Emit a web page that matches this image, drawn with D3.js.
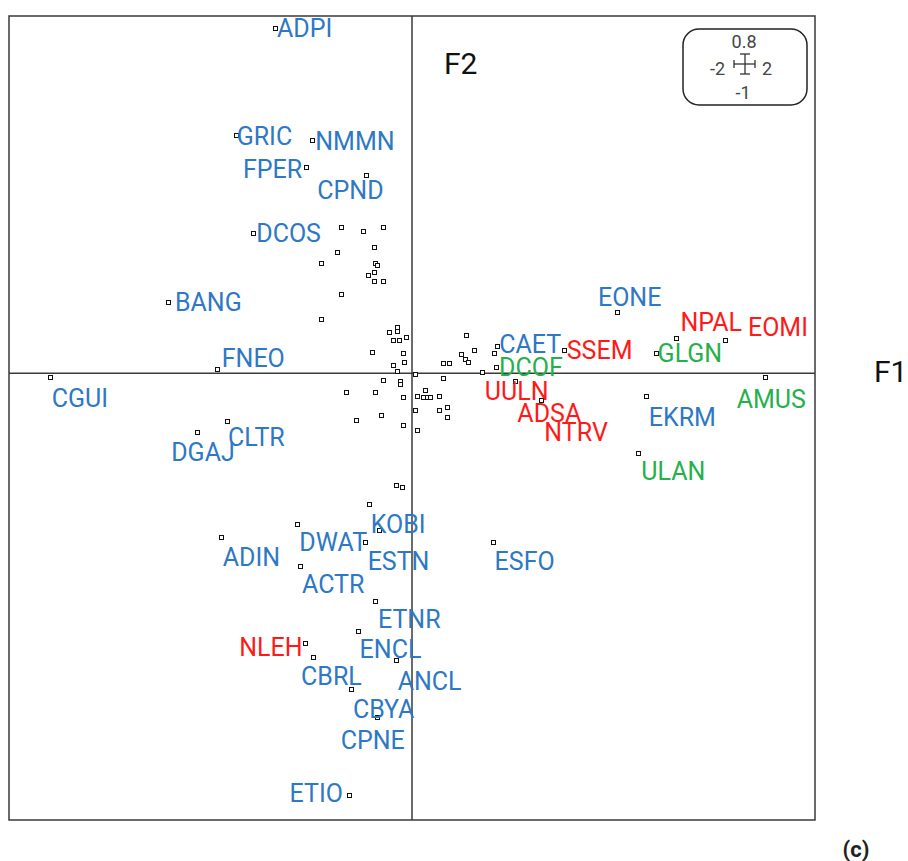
<!DOCTYPE html>
<html>
<head>
<meta charset="utf-8">
<script src="https://cdn.jsdelivr.net/npm/d3@7"></script>
<style>
  html, body { margin: 0; padding: 0; background: #fff; }
  svg { display: block; }
</style>
</head>
<body>
<div id="chart"></div>
<script>
// labelled species / sites (F1, F2 scores)
var names = ["ADPI", "GRIC", "NMMN", "FPER", "CPND", "DCOS", "BANG", "FNEO", "CGUI", "CLTR",
             "DGAJ", "KOBI", "DWAT", "ADIN", "ESTN", "ESFO", "ACTR", "ETNR", "NLEH", "ENCL",
             "CBRL", "ANCL", "CBYA", "CPNE", "ETIO", "EONE", "CAET", "SSEM", "DCOF", "UULN",
             "ADSA", "NTRV", "NPAL", "EOMI", "GLGN", "AMUS", "EKRM", "ULAN"];
var f1 = [-0.675, -0.870, -0.490, -0.520, -0.222, -0.783, -1.206, -0.964, -1.793, -0.913,
          -1.061, -0.210, -0.564, -0.944, -0.230, 0.405, -0.551, -0.179, -0.528, -0.265,
          -0.486, -0.076, -0.298, -0.170, -0.308, 1.022, 0.428, 0.758, 0.422, 0.515,
          0.647, 0.647, 1.317, 1.558, 1.214, 1.755, 1.165, 1.128];
var f2 = [0.770, 0.532, 0.521, 0.459, 0.441, 0.313, 0.158, 0.007, -0.010, -0.108,
          -0.134, -0.294, -0.339, -0.368, -0.380, -0.380, -0.433, -0.512, -0.605, -0.579,
          -0.637, -0.644, -0.709, -0.771, -0.946, 0.136, 0.058, 0.050, 0.012, -0.020,
          -0.063, -0.063, 0.076, 0.073, 0.044, -0.010, -0.052, -0.181];
var groups = ["b", "b", "b", "b", "b", "b", "b", "b", "b", "b",
              "b", "b", "b", "b", "b", "b", "b", "b", "r", "b",
              "b", "b", "b", "b", "b", "b", "b", "r", "g", "r",
              "r", "r", "r", "r", "g", "g", "b", "g"];

// unlabelled points
var otherF1 = [-0.346, -0.237, -0.140, -0.367, -0.184, -0.448, -0.179, -0.170, -0.212, -0.184,
               -0.184, -0.140, -0.346, -0.448, -0.109, -0.068, -0.068, -0.089, -0.061, -0.025,
               -0.192, -0.041, -0.033, -0.089, -0.068, 0.020, 0.159, 0.189, 0.159, 0.274,
               0.314, 0.247, 0.268, 0.283, 0.413, 0.354, -0.140, -0.055, -0.055, -0.324,
               -0.177, -0.041, 0.030, 0.069, 0.061, 0.078, 0.093, 0.140, 0.020, 0.140,
               0.180, 0.180, -0.149, -0.271, -0.041, 0.030, -0.076, -0.043, -0.157];
var otherF2 = [0.326, 0.316, 0.326, 0.270, 0.280, 0.245, 0.244, 0.241, 0.219, 0.224,
               0.204, 0.204, 0.176, 0.119, 0.091, 0.101, 0.092, 0.073, 0.073, 0.080,
               0.046, 0.043, 0.024, 0.016, 0.004, -0.003, 0.020, 0.020, -0.013, 0.083,
               0.050, 0.040, 0.030, 0.024, 0.043, 0.001, -0.018, -0.019, -0.025, -0.045,
               -0.043, -0.055, -0.052, -0.040, -0.055, -0.055, -0.055, -0.052, -0.085, -0.085,
               -0.078, -0.099, -0.095, -0.107, -0.118, -0.128, -0.252, -0.256, -0.354];

var xDomain = [-2, 2];
var yDomain = [-1, 0.8];

// label placement (pixels from the point: dx to text start, or text end if "end"; dy to baseline)
var labelPos = {
  ADPI: [1, 8], GRIC: [0, 9], NMMN: [2, 9], FPER: [-5, 10, "end"], CPND: [-50, 23],
  DCOS: [2, 8], BANG: [6, 8], FNEO: [4, -3], CGUI: [1, 29], CLTR: [0, 24],
  DGAJ: [-27, 28], KOBI: [1, 28], DWAT: [1, 26], ADIN: [1, 28], ESTN: [2, 27],
  ESFO: [1, 27], ACTR: [1, 26], ETNR: [2, 26], NLEH: [-3, 12, "end"], ENCL: [1, 26],
  CBRL: [-13, 27], ANCL: [1, 29], CBYA: [1, 28], CPNE: [-37, 31], ETIO: [-7, 6, "end"],
  EONE: [-20, -7], CAET: [1, 6], SSEM: [2, 8], DCOF: [2, 8], UULN: [-31, 18],
  ADSA: [-25, 21], NTRV: [2, 40], NPAL: [3, -8], EOMI: [22, -5], GLGN: [1, 8],
  AMUS: [-29, 30], EKRM: [2, 29], ULAN: [2, 26]
};
var colors = { b: "#2E78C4", r: "#FF1A1A", g: "#25B04C" };

var width = 908, height = 861;
var frame = { left: 9, top: 16, right: 815, bottom: 820 };

var svg = d3.select("#chart").append("svg")
    .attr("width", width)
    .attr("height", height);

var x = d3.scaleLinear().domain(xDomain).range([frame.left, frame.right]);
var y = d3.scaleLinear().domain(yDomain).range([frame.bottom, frame.top]);

// frame
svg.append("rect")
    .attr("x", frame.left)
    .attr("y", frame.top)
    .attr("width", frame.right - frame.left)
    .attr("height", frame.bottom - frame.top)
    .attr("fill", "none")
    .attr("stroke", "#3a3a3a")
    .attr("stroke-width", 1.5);

// axes through origin
svg.append("line")
    .attr("x1", x(xDomain[0])).attr("x2", x(xDomain[1]))
    .attr("y1", y(0)).attr("y2", y(0))
    .attr("stroke", "#3a3a3a").attr("stroke-width", 1.5);
svg.append("line")
    .attr("x1", x(0)).attr("x2", x(0))
    .attr("y1", y(yDomain[0])).attr("y2", y(yDomain[1]))
    .attr("stroke", "#3a3a3a").attr("stroke-width", 1.5);

svg.append("text")
    .attr("x", x(0) + 32).attr("y", 74)
    .attr("font-family", "Roboto, sans-serif")
    .attr("font-size", 30)
    .attr("fill", "#111")
    .text("F2");
svg.append("text")
    .attr("x", 874).attr("y", 382)
    .attr("font-family", "Roboto, sans-serif")
    .attr("font-size", 30)
    .attr("fill", "#111")
    .text("F1");

var labelled = names.map(function (n, i) {
  return { name: n, x: f1[i], y: f2[i], group: groups[i] };
});
var others = otherF1.map(function (v, i) { return { x: v, y: otherF2[i] }; });

// markers
svg.append("g").selectAll("rect")
    .data(others.concat(labelled))
    .enter().append("rect")
    .attr("x", function (d) { return Math.round(x(d.x)) - 2.5; })
    .attr("y", function (d) { return Math.round(y(d.y)) - 2.5; })
    .attr("width", 4)
    .attr("height", 4)
    .attr("fill", "#fff")
    .attr("stroke", "#111")
    .attr("stroke-width", 1);

// labels
svg.append("g").selectAll("text")
    .data(labelled)
    .enter().append("text")
    .attr("x", function (d) { return x(d.x) + labelPos[d.name][0]; })
    .attr("y", function (d) { return y(d.y) + labelPos[d.name][1]; })
    .attr("text-anchor", function (d) { return labelPos[d.name][2] || "start"; })
    .attr("font-family", "Roboto, sans-serif")
    .attr("font-size", 25)
    .attr("fill", function (d) { return colors[d.group]; })
    .text(function (d) { return d.name; });

// scale key (top right)
var key = svg.append("g").attr("transform", "translate(745,64)");
key.append("rect")
    .attr("x", -62).attr("y", -35)
    .attr("width", 124).attr("height", 76)
    .attr("rx", 16).attr("ry", 16)
    .attr("fill", "#fff")
    .attr("stroke", "#222")
    .attr("stroke-width", 1.5);
var cross = key.append("g").attr("stroke", "#333").attr("stroke-width", 1.3);
cross.append("line").attr("x1", -11).attr("x2", 10).attr("y1", 0).attr("y2", 0);
cross.append("line").attr("x1", -11).attr("x2", -11).attr("y1", -4).attr("y2", 4);
cross.append("line").attr("x1", 10).attr("x2", 10).attr("y1", -4).attr("y2", 4);
cross.append("line").attr("x1", 0).attr("x2", 0).attr("y1", -10).attr("y2", 10);
cross.append("line").attr("x1", -5).attr("x2", 5).attr("y1", -10).attr("y2", -10);
cross.append("line").attr("x1", -5).attr("x2", 5).attr("y1", 10).attr("y2", 10);
var keyText = [["0.8", -1, -16, "middle"], ["-2", -20, 11, "end"], ["2", 17, 11, "start"], ["-1", -2, 35, "middle"]];
key.selectAll("text.k")
    .data(keyText)
    .enter().append("text")
    .attr("class", "k")
    .attr("x", function (d) { return d[1]; })
    .attr("y", function (d) { return d[2]; })
    .attr("text-anchor", function (d) { return d[3]; })
    .attr("font-family", "Roboto, sans-serif")
    .attr("font-size", 18)
    .attr("fill", "#444")
    .text(function (d) { return d[0]; });

svg.append("text")
    .attr("x", 856).attr("y", 857)
    .attr("text-anchor", "middle")
    .attr("font-family", "Roboto, sans-serif")
    .attr("font-weight", "bold")
    .attr("font-size", 22)
    .attr("fill", "#222")
    .text("(c)");
</script>
</body>
</html>
